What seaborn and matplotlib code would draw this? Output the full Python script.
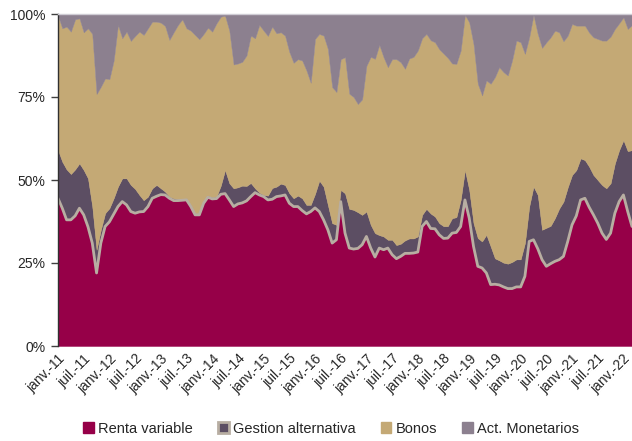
import numpy as np
import pandas as pd
import matplotlib
matplotlib.use("Agg")
import matplotlib.pyplot as plt
import seaborn as sns
from matplotlib.patches import Patch

# ---------------- data (percent of portfolio, monthly janv.-11 .. mars-22) -------------
renta_variable = [
    44.5, 41.5, 38.0, 38.0, 39.2, 41.5, 39.5, 35.9, 31.0, 22.0,
    31.0, 36.0, 37.4, 39.7, 42.0, 43.5, 42.5, 40.5, 40.0, 40.4,
    40.5, 42.0, 44.5, 45.1, 45.6, 45.5, 44.5, 43.8, 43.8, 43.9,
    44.0, 42.0, 39.5, 39.5, 43.0, 44.8, 44.3, 44.4, 45.7, 45.9,
    44.0, 42.0, 42.8, 43.1, 43.7, 45.0, 46.2, 45.5, 45.0, 44.0,
    44.2, 45.0, 45.2, 45.5, 43.0, 42.0, 42.0, 40.8, 39.8, 40.5,
    41.6, 40.5, 38.0, 35.0, 31.0, 32.0, 43.5, 34.0, 29.5, 29.2,
    29.4, 30.5, 33.0, 29.5, 26.8, 29.5, 29.0, 29.5, 27.5, 26.3,
    27.0, 27.9, 27.9, 28.0, 28.3, 36.0, 37.5, 35.4, 35.3, 33.5,
    32.4, 32.5, 34.0, 34.2, 36.0, 44.0, 38.5, 30.0, 24.0, 23.5,
    22.0, 18.5, 18.6, 18.4, 17.8, 17.3, 17.3, 17.8, 17.8, 21.0,
    31.5, 32.0, 29.3, 26.0, 24.0, 24.8, 25.5, 26.0, 27.0, 31.5,
    36.5, 39.2, 44.0, 44.5, 41.8, 39.5, 37.0, 34.0, 32.1, 34.0,
    40.0, 43.5, 45.5, 40.5, 36.0,
]
gestion_alternativa = [
    14.5, 14.0, 15.2, 13.8, 14.0, 13.5, 13.5, 14.6, 11.0, 7.0,
    4.0, 4.0, 4.1, 4.8, 6.0, 7.0, 8.0, 8.0, 7.3, 5.1,
    3.4, 3.0, 3.0, 3.4, 1.9, 1.0, 0.5, 0.7, 0.5, 0.5,
    0.5, 0.5, 0.5, 0.5, 0.5, 0.5, 0.5, 0.6, 2.6, 7.1,
    5.0, 5.5, 5.0, 5.2, 4.5, 4.1, 1.3, 0.7, 0.5, 1.3,
    3.4, 3.0, 3.7, 3.0, 3.0, 2.5, 3.3, 3.7, 2.7, 2.0,
    4.2, 9.3, 10.0, 7.5, 6.0, 4.5, 3.5, 12.0, 11.8, 11.8,
    10.9, 9.0, 7.5, 7.0, 7.2, 3.9, 4.0, 2.5, 4.5, 4.1,
    3.8, 3.9, 4.5, 4.4, 4.7, 3.5, 3.8, 4.5, 3.7, 3.5,
    3.7, 3.6, 4.5, 4.6, 8.0, 9.0, 8.5, 7.0, 8.5, 8.0,
    11.5, 11.5, 7.8, 7.4, 7.3, 7.5, 8.0, 8.3, 8.3, 10.0,
    10.5, 16.0, 16.2, 9.0, 11.6, 11.4, 13.0, 15.4, 16.5, 16.3,
    15.0, 13.8, 12.5, 11.5, 12.2, 12.0, 13.0, 14.5, 15.4, 15.0,
    15.0, 15.5, 16.5, 18.2, 23.0,
]
bonos = [
    40.5, 40.2, 43.0, 42.9, 45.2, 43.7, 41.5, 45.2, 52.0, 46.9,
    43.1, 40.6, 38.9, 41.5, 48.7, 42.2, 44.2, 43.4, 46.1, 49.2,
    49.8, 50.7, 50.2, 49.2, 49.9, 49.9, 47.2, 50.0, 52.4, 54.0,
    51.2, 52.5, 53.7, 52.4, 50.5, 50.6, 49.9, 52.2, 50.9, 46.5,
    46.0, 37.3, 37.3, 37.3, 39.3, 44.4, 45.2, 50.5, 49.5, 48.1,
    48.6, 46.2, 45.6, 45.0, 42.6, 40.8, 41.1, 41.5, 40.5, 36.8,
    46.7, 44.2, 45.5, 47.0, 41.0, 40.0, 39.4, 41.0, 34.7, 34.0,
    32.6, 34.8, 43.9, 50.6, 52.5, 57.3, 54.0, 52.0, 54.4, 56.0,
    54.7, 51.7, 54.2, 54.7, 56.0, 53.2, 52.7, 52.2, 52.5, 52.4,
    52.0, 50.7, 46.6, 46.2, 45.0, 46.7, 50.5, 54.0, 46.5, 44.0,
    46.5, 49.0, 54.6, 58.2, 57.4, 56.7, 60.7, 65.9, 65.4, 57.0,
    51.0, 51.7, 48.5, 54.8, 55.9, 56.8, 56.5, 53.1, 48.3, 45.7,
    45.5, 43.5, 40.0, 40.5, 40.4, 41.5, 42.5, 43.5, 44.5, 44.2,
    40.5, 38.2, 37.0, 36.8, 37.7,
]
act_monetarios = [
    0.5, 4.3, 3.8, 5.3, 1.6, 1.3, 5.5, 4.3, 6.0, 24.1,
    21.9, 19.4, 19.6, 14.0, 3.3, 7.3, 5.3, 8.1, 6.6, 5.3,
    6.3, 4.3, 2.3, 2.3, 2.6, 3.6, 7.8, 5.5, 3.3, 1.6,
    4.3, 5.0, 6.3, 7.6, 6.0, 4.1, 5.3, 2.8, 0.8, 0.5,
    5.0, 15.2, 14.9, 14.4, 12.5, 6.5, 7.3, 3.3, 5.0, 6.6,
    3.8, 5.8, 5.5, 6.5, 11.4, 14.7, 13.6, 14.0, 17.0, 20.7,
    7.5, 6.0, 6.5, 10.5, 22.0, 23.5, 13.6, 13.0, 24.0, 25.0,
    27.1, 25.7, 15.6, 12.9, 13.5, 9.3, 13.0, 16.0, 13.6, 13.6,
    14.5, 16.5, 13.4, 12.9, 11.0, 7.3, 6.0, 7.9, 8.5, 10.6,
    11.9, 13.2, 14.9, 15.0, 11.0, 0.3, 2.5, 9.0, 21.0, 24.5,
    20.0, 21.0, 19.0, 16.0, 17.5, 18.5, 14.0, 8.0, 8.5, 12.0,
    7.0, 0.3, 6.0, 10.2, 8.5, 7.0, 5.0, 5.5, 8.2, 6.5,
    3.0, 3.5, 3.5, 3.5, 5.6, 7.0, 7.5, 8.0, 8.0, 6.8,
    4.5, 2.8, 1.0, 4.5, 3.3,
]
tick_labels = [
    "janv.-11", "juil.-11", "janv.-12", "juil.-12", "janv.-13", "juil.-13",
    "janv.-14", "juil.-14", "janv.-15", "juil.-15", "janv.-16", "juil.-16",
    "janv.-17", "juil.-17", "janv.-18", "juil.-18", "janv.-19", "juil.-19",
    "janv.-20", "juil.-20", "janv.-21", "juil.-21", "janv.-22",
]
series_names = ["Renta variable", "Gestion alternativa", "Bonos", "Act. Monetarios"]

# ---------------- styling -------------
sns.set_theme(style="white")
plt.rcParams['font.family'] = ['Liberation Sans', 'DejaVu Sans']

C_RV = "#960048"
C_GA = "#5C4E63"
C_EDGE = "#B8AEA2"
C_BO = "#C4A975"
C_AM = "#8C808F"

df = pd.DataFrame({
    "idx": np.arange(len(renta_variable)),
    series_names[0]: renta_variable,
    series_names[1]: gestion_alternativa,
    series_names[2]: bonos,
    series_names[3]: act_monetarios,
})

fig = plt.figure(figsize=(6.32, 4.41), dpi=100)
ax = fig.add_axes([58 / 632, 1 - 346 / 441, 1 - 58 / 632, (346 - 14) / 441])

ax.stackplot(df["idx"], df[series_names[0]], df[series_names[1]],
             df[series_names[2]], df[series_names[3]],
             colors=[C_RV, C_GA, C_BO, C_AM], linewidth=0.3,
             edgecolor="face")
sns.lineplot(data=df, x="idx", y=series_names[0], color=C_EDGE,
             linewidth=2.0, ax=ax, legend=False)

ax.set_xlim(0, len(renta_variable) - 1)
ax.set_ylim(0, 100)
ax.set_xlabel("")
ax.set_ylabel("")

ax.set_xticks(np.arange(0, 6 * len(tick_labels), 6))
ax.set_xticklabels(tick_labels, rotation=45, ha="right", va="top",
                   rotation_mode="anchor", fontsize=10, color="#262626")
ax.set_yticks([0, 25, 50, 75, 100])
ax.set_yticklabels(["0%", "25%", "50%", "75%", "100%"], fontsize=10,
                   color="#262626")
ax.tick_params(axis="x", length=0, pad=4)
ax.tick_params(axis="y", length=5, width=1, color="#404040", pad=4, left=True)

for s in ["right", "bottom"]:
    ax.spines[s].set_visible(False)
ax.spines["left"].set_color("#303030")
ax.spines["left"].set_linewidth(1.0)
ax.spines["top"].set_color("#CFCCD4")
ax.spines["top"].set_linewidth(1.0)
ax.grid(False)

handles = [
    Patch(facecolor=C_RV, edgecolor=C_RV, label=series_names[0]),
    Patch(facecolor=C_GA, edgecolor=C_EDGE, linewidth=2.0, label=series_names[1]),
    Patch(facecolor=C_BO, edgecolor=C_BO, label=series_names[2]),
    Patch(facecolor=C_AM, edgecolor=C_AM, label=series_names[3]),
]
fig.legend(handles=handles, loc="center", bbox_to_anchor=(0.524, 0.028),
           ncol=4, frameon=False, fontsize=10.5, handlelength=0.75,
           handleheight=0.75, handletextpad=0.3, columnspacing=1.7,
           labelcolor="#262626")

fig.savefig("out.png", dpi=100, facecolor="white")
